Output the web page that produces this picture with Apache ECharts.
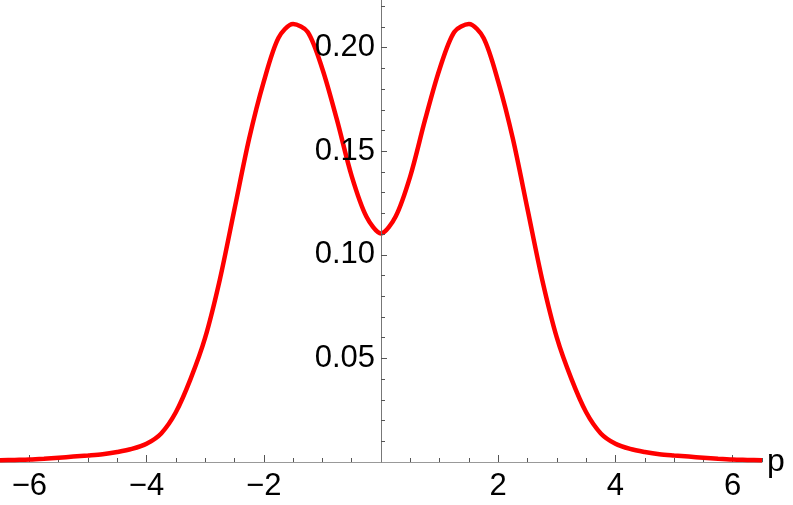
<!DOCTYPE html>
<html>
<head>
<meta charset="utf-8">
<script src="https://cdn.jsdelivr.net/npm/echarts@6/dist/echarts.min.js"></script>
<style>
  html, body { margin: 0; padding: 0; background: #fff; }
  #chart { width: 793px; height: 505px; }
</style>
</head>
<body>
<div id="chart"></div>
<script>
// momentum p, sampled every 0.25
const pValues = [
  -6.5, -6.25, -6, -5.75, -5.5, -5.25, -5, -4.75, -4.5, -4.25, -4, -3.75, -3.5,
  -3.25, -3, -2.75, -2.5, -2.25, -2, -1.75, -1.5, -1.25, -1, -0.75, -0.5, -0.25,
  0,
  0.25, 0.5, 0.75, 1, 1.25, 1.5, 1.75, 2, 2.25, 2.5, 2.75, 3, 3.25,
  3.5, 3.75, 4, 4.25, 4.5, 4.75, 5, 5.25, 5.5, 5.75, 6, 6.25, 6.5
]
const density = [
  0.0008, 0.0010, 0.0012, 0.0016, 0.0021, 0.0026, 0.0031, 0.0037, 0.0048, 0.0063, 0.0088, 0.0138, 0.024,
  0.040, 0.060, 0.088, 0.122, 0.156, 0.1836, 0.2047, 0.2114, 0.2076, 0.1897, 0.165, 0.138, 0.1185,
  0.1103,
  0.1185, 0.138, 0.165, 0.1897, 0.2076, 0.2114, 0.2047, 0.1836, 0.156, 0.122, 0.088, 0.060, 0.040,
  0.024, 0.0138, 0.0088, 0.0063, 0.0048, 0.0037, 0.0031, 0.0026, 0.0021, 0.0016, 0.0012, 0.0010, 0.0008
]
// tick labels
const xMajor = [-6, -4, -2, 2, 4, 6]
const xMinor = [-6.5, -5.5, -5, -4.5, -3.5, -3, -2.5, -1.5, -1, -0.5, 0.5, 1, 1.5, 2.5, 3, 3.5, 4.5, 5, 5.5, 6.5]
const yMajor = [0.05, 0.10, 0.15, 0.20]
const yMinor = [0.01, 0.02, 0.03, 0.04, 0.06, 0.07, 0.08, 0.09, 0.11, 0.12, 0.13, 0.14, 0.16, 0.17, 0.18, 0.19, 0.21, 0.22]

const seriesData = pValues.map((p, i) => [p, density[i]])

const font = 'Liberation Sans, Arial, sans-serif'
const X_MIN = -6.5, X_MAX = 6.5
const Y_MIN = 0, Y_MAX = 0.223

const chart = echarts.init(document.getElementById('chart'), null, { renderer: 'canvas' })

// plot area: 762px wide, so p = 0 sits at 381px
const option = {
  animation: false,
  grid: [
    { left: 0, right: 31, top: 0, bottom: 43, containLabel: false, outerBoundsMode: 'none' },
    // thin grid on p = 0 that carries the vertical axis
    { left: 381, width: 1, top: 0, bottom: 43, containLabel: false, outerBoundsMode: 'none' }
  ],
  xAxis: [
    {
      type: 'value',
      gridIndex: 0,
      min: X_MIN,
      max: X_MAX,
      name: 'p',
      nameLocation: 'end',
      nameGap: 5,
      nameTextStyle: { color: '#000', fontSize: 32, fontFamily: font, verticalAlign: 'middle', padding: [0, 0, 6, 0] },
      splitLine: { show: false },
      axisLine: { onZero: false, lineStyle: { color: '#999', width: 1 } },
      axisTick: { inside: true, length: 7, customValues: xMajor, lineStyle: { color: '#555' } },
      axisLabel: {
        customValues: xMajor,
        color: '#000',
        fontSize: 31,
        fontFamily: font,
        margin: 9,
        formatter: (v) => (v < 0 ? '\u2212' + Math.abs(v) : String(v))
      }
    },
    {
      type: 'value',
      gridIndex: 0,
      position: 'bottom',
      min: X_MIN,
      max: X_MAX,
      splitLine: { show: false },
      axisLine: { show: false, onZero: false },
      axisTick: { inside: true, length: 4, customValues: xMinor, lineStyle: { color: '#555' } },
      axisLabel: { show: false }
    },
    {
      type: 'value',
      gridIndex: 1,
      show: false,
      min: 0,
      max: 1
    }
  ],
  yAxis: [
    {
      type: 'value',
      gridIndex: 0,
      show: false,
      min: Y_MIN,
      max: Y_MAX
    },
    {
      type: 'value',
      gridIndex: 1,
      position: 'left',
      z: 5,
      min: Y_MIN,
      max: Y_MAX,
      splitLine: { show: false },
      axisLine: { onZero: false, lineStyle: { color: '#777', width: 1 } },
      axisTick: { inside: true, length: 6, customValues: yMajor, lineStyle: { color: '#555' } },
      axisLabel: {
        customValues: yMajor,
        color: '#000',
        fontSize: 31,
        fontFamily: font,
        margin: 6,
        formatter: (v) => v.toFixed(2)
      }
    },
    {
      type: 'value',
      gridIndex: 1,
      position: 'left',
      offset: 0,
      z: 5,
      min: Y_MIN,
      max: Y_MAX,
      splitLine: { show: false },
      axisLine: { show: false, onZero: false },
      axisTick: { inside: true, length: 4, customValues: yMinor, lineStyle: { color: '#555' } },
      axisLabel: { show: false }
    }
  ],
  series: [
    {
      type: 'line',
      data: seriesData,
      xAxisIndex: 0,
      yAxisIndex: 0,
      showSymbol: false,
      smooth: 0.3,
      lineStyle: { color: '#ff0000', width: 4.5 },
      z: 2
    }
  ]
}

chart.setOption(option)
</script>
</body>
</html>
